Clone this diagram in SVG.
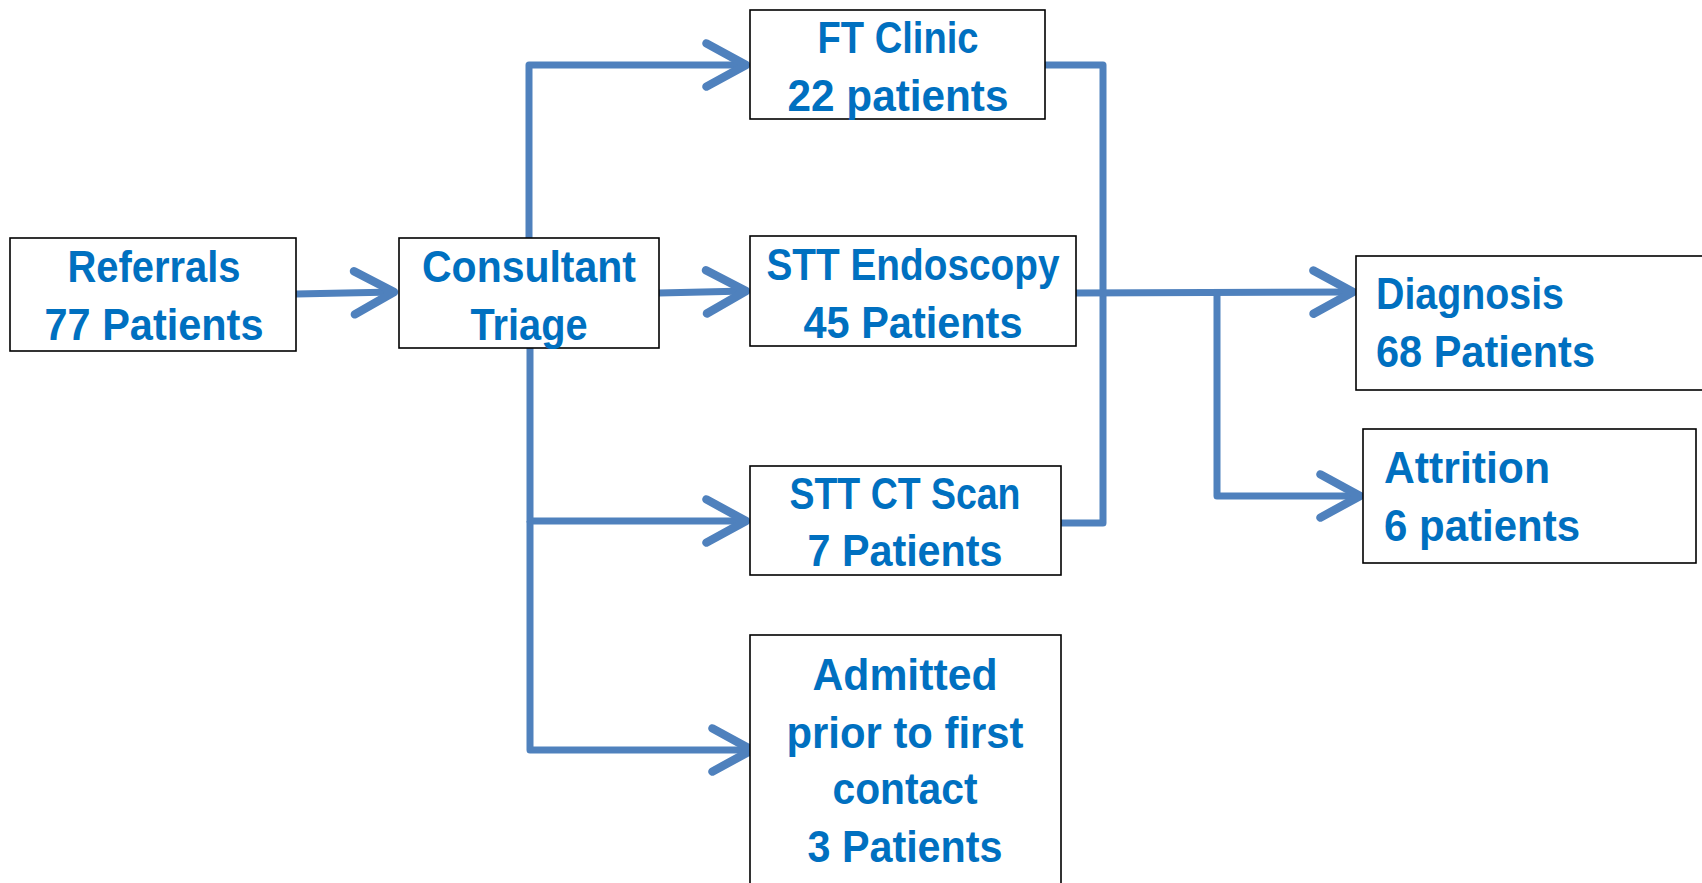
<svg xmlns="http://www.w3.org/2000/svg" width="1702" height="883" viewBox="0 0 1702 883">
<style>
.box{fill:#ffffff;stroke:#000000;stroke-width:1.6}
.t{font-family:"Liberation Sans",Arial,sans-serif;font-weight:bold;font-size:44px;fill:#0070c0}
.c{text-anchor:middle}
.con{fill:none;stroke:#4f81bd;stroke-width:7;stroke-linejoin:round}
</style>
<defs>
<marker id="ah" markerUnits="userSpaceOnUse" markerWidth="60" markerHeight="60" refX="0" refY="0" orient="auto" overflow="visible" viewBox="-40 -25 50 50">
<path d="M-33,-18 L0,0 L-33,18" fill="none" stroke="#4f81bd" stroke-width="7" stroke-linecap="round" stroke-linejoin="round"/>
</marker>
</defs>
<rect width="1702" height="883" fill="#ffffff"/>
<g id="connectors">
<path class="con" d="M296,294 L394,292" marker-end="url(#ah)"/>
<path class="con" d="M529,238 L529,65 L746,65" marker-end="url(#ah)"/>
<path class="con" d="M659,293 L746,291" marker-end="url(#ah)"/>
<path class="con" d="M530,348 L530,521 L746,521" marker-end="url(#ah)"/>
<path class="con" d="M530,521 L530,750 L752,750" marker-end="url(#ah)"/>
<path class="con" d="M1045,65 L1103,65 L1103,523 L1061,523"/>
<path class="con" d="M1076,293 L1353,292" marker-end="url(#ah)"/>
<path class="con" d="M1217,293 L1217,496 L1360,496" marker-end="url(#ah)"/>
</g>
<g id="referrals">
<rect class="box" x="10" y="238" width="286" height="113"/>
<text class="t c" x="154" y="282" textLength="173" lengthAdjust="spacingAndGlyphs">Referrals</text>
<text class="t c" x="154" y="340" textLength="219" lengthAdjust="spacingAndGlyphs">77 Patients</text>
</g>
<g id="triage">
<rect class="box" x="399" y="238" width="260" height="110"/>
<text class="t c" x="529" y="282" textLength="214" lengthAdjust="spacingAndGlyphs">Consultant</text>
<text class="t c" x="529" y="340" textLength="117" lengthAdjust="spacingAndGlyphs">Triage</text>
</g>
<g id="ftclinic">
<rect class="box" x="750" y="10" width="295" height="109"/>
<text class="t c" x="898" y="53" textLength="161" lengthAdjust="spacingAndGlyphs">FT Clinic</text>
<text class="t c" x="898" y="111" textLength="221" lengthAdjust="spacingAndGlyphs">22 patients</text>
</g>
<g id="endoscopy">
<rect class="box" x="750" y="236" width="326" height="110"/>
<text class="t c" x="913" y="280" textLength="293" lengthAdjust="spacingAndGlyphs">STT Endoscopy</text>
<text class="t c" x="913" y="338" textLength="219" lengthAdjust="spacingAndGlyphs">45 Patients</text>
</g>
<g id="ctscan">
<rect class="box" x="750" y="466" width="311" height="109"/>
<text class="t c" x="905" y="509" textLength="231" lengthAdjust="spacingAndGlyphs">STT CT Scan</text>
<text class="t c" x="905" y="566" textLength="195" lengthAdjust="spacingAndGlyphs">7 Patients</text>
</g>
<g id="admitted">
<rect class="box" x="750" y="635" width="311" height="260"/>
<text class="t c" x="905" y="690" textLength="185" lengthAdjust="spacingAndGlyphs">Admitted</text>
<text class="t c" x="905" y="748" textLength="237" lengthAdjust="spacingAndGlyphs">prior to first</text>
<text class="t c" x="905" y="804" textLength="145" lengthAdjust="spacingAndGlyphs">contact</text>
<text class="t c" x="905" y="862" textLength="195" lengthAdjust="spacingAndGlyphs">3 Patients</text>
</g>
<g id="diagnosis">
<rect class="box" x="1356" y="256" width="360" height="134"/>
<text class="t" x="1376" y="309" textLength="188" lengthAdjust="spacingAndGlyphs">Diagnosis</text>
<text class="t" x="1376" y="367" textLength="219" lengthAdjust="spacingAndGlyphs">68 Patients</text>
</g>
<g id="attrition">
<rect class="box" x="1363" y="429" width="333" height="134"/>
<text class="t" x="1384" y="483" textLength="166" lengthAdjust="spacingAndGlyphs">Attrition</text>
<text class="t" x="1384" y="541" textLength="196" lengthAdjust="spacingAndGlyphs">6 patients</text>
</g>
</svg>
